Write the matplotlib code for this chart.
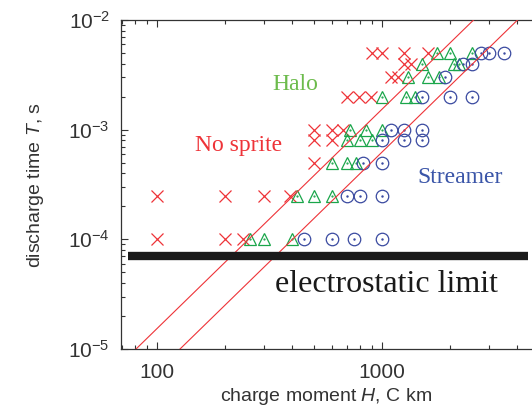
import numpy as np
import matplotlib
matplotlib.use('Agg')
import matplotlib.pyplot as plt
from matplotlib.ticker import LogLocator, FuncFormatter, NullFormatter

plt.rcParams['font.family'] = 'Liberation Sans'
plt.rcParams['mathtext.fontset'] = 'custom'
plt.rcParams['mathtext.rm'] = 'Liberation Sans'
plt.rcParams['mathtext.it'] = 'Liberation Sans:italic'

# no sprite (red crosses)
nosprite_H = [100, 200, 240,
              100, 200, 300, 390,
              500,
              500, 600,
              500, 600, 670,
              700, 790, 890,
              1100, 1180,
              1250, 1350,
              900, 1000, 1250, 1600]
nosprite_T = [1e-4] * 3 + [2.5e-4] * 4 + [5e-4] + [8e-4] * 2 + [1e-3] * 3 \
    + [2e-3] * 3 + [3e-3] * 2 + [4e-3] * 2 + [5e-3] * 4

# halo (green triangles)
halo_H = [260, 300, 400,
          420, 500, 600,
          600, 700, 770,
          700, 800, 900,
          720, 850, 1000,
          1000, 1280, 1400,
          1300, 1600, 1800,
          1500, 2100, 2200,
          1750, 2000, 2500]
halo_T = [1e-4] * 3 + [2.5e-4] * 3 + [5e-4] * 3 + [8e-4] * 3 + [1e-3] * 3 \
    + [2e-3] * 3 + [3e-3] * 3 + [4e-3] * 3 + [5e-3] * 3

# streamer (blue circles)
streamer_H = [450, 600, 750, 1000,
              700, 800, 1000,
              820, 1000,
              1000, 1250, 1500,
              1100, 1250, 1500,
              1500, 2000, 2500,
              1900,
              2300, 2500,
              2750, 3000, 3500]
streamer_T = [1e-4] * 4 + [2.5e-4] * 3 + [5e-4] * 2 + [8e-4] * 3 + [1e-3] * 3 \
    + [2e-3] * 3 + [3e-3] + [4e-3] * 2 + [5e-3] * 3

# threshold lines T = c * H^2
line_H = np.array([60, 6000])
line_coef = [1.535e-9, 6.24e-10]
limit_H = [74, 4470]
limit_T = 7e-5

red = '#ee3338'
green = '#1aa64a'
blue = '#3a4aa0'

fig = plt.figure(figsize=(5.32, 4.12), dpi=100)
ax = fig.add_axes([121 / 532, 1 - 349 / 412, 1 - 121 / 532, (349 - 20) / 412])
ax.set_xscale('log')
ax.set_yscale('log')

ax.plot(nosprite_H, nosprite_T, linestyle='none', marker='x', ms=8, mew=0.9,
        color=red, zorder=3)
ax.plot(halo_H, halo_T, linestyle='none', marker='^', ms=9, mew=0.9,
        mfc='none', mec=green, zorder=3)
ax.plot(halo_H, halo_T, linestyle='none', marker='.', ms=1.2, color=green, zorder=3)
ax.plot(streamer_H, streamer_T, linestyle='none', marker='o', ms=9, mew=0.9,
        mfc='none', mec=blue, zorder=3)
ax.plot(streamer_H, streamer_T, linestyle='none', marker='.', ms=1.5, color=blue, zorder=3)

for c in line_coef:
    ax.plot(line_H, c * line_H ** 2, color=red, lw=0.8, zorder=4)

ax.plot(limit_H, [limit_T, limit_T], color='#1a1a1a', lw=6, solid_capstyle='butt', zorder=5)

ax.text(410, 2.6e-3, 'Halo', family='Liberation Serif', fontsize=17,
        color='#6cbb4c', ha='center', va='center')
ax.text(231, 7.1e-4, 'No sprite', family='Liberation Serif', fontsize=17,
        color=red, ha='center', va='center')
ax.text(2222, 3.63e-4, 'Streamer', family='Liberation Serif', fontsize=17,
        color='#3a55a8', ha='center', va='center')
ax.text(1042, 3.85e-5, 'electrostatic limit', family='Liberation Serif', fontsize=23,
        color='#1a1a1a', ha='center', va='center')

ax.set_xlim(69.2, 4642)
ax.set_ylim(1e-5, 1e-2)

ax.xaxis.set_major_locator(LogLocator(base=10, numticks=10))
ax.xaxis.set_minor_locator(LogLocator(base=10, subs=np.arange(2, 10), numticks=20))
ax.yaxis.set_major_locator(LogLocator(base=10, numticks=10))
ax.yaxis.set_minor_locator(LogLocator(base=10, subs=np.arange(2, 10), numticks=20))
ax.xaxis.set_major_formatter(FuncFormatter(lambda v, p: '%d' % round(v)))
ax.xaxis.set_minor_formatter(NullFormatter())
ax.yaxis.set_major_formatter(
    FuncFormatter(lambda v, p: r'$\mathregular{10^{%d}}$' % round(np.log10(v))))
ax.yaxis.set_minor_formatter(NullFormatter())

ax.tick_params(which='both', direction='in', top=True, right=False,
               color='#333333', width=0.8)
ax.tick_params(which='major', length=5, labelsize=15, pad=10)
ax.tick_params(which='minor', length=3)
ax.tick_params(axis='y', which='major', pad=8)
ax.spines['right'].set_visible(False)
for s in ['left', 'bottom', 'top']:
    ax.spines[s].set_color('#333333')
    ax.spines[s].set_linewidth(0.9)

ax.set_xlabel('charge moment $\\mathit{H}$, C km', fontsize=14, color='#333333', labelpad=3)
ax.set_ylabel('discharge time $\\mathit{T}$, s', fontsize=14, color='#333333', labelpad=16)
for lab in ax.get_xticklabels() + ax.get_yticklabels():
    lab.set_color('#333333')

fig.savefig('out.png', dpi=100)
